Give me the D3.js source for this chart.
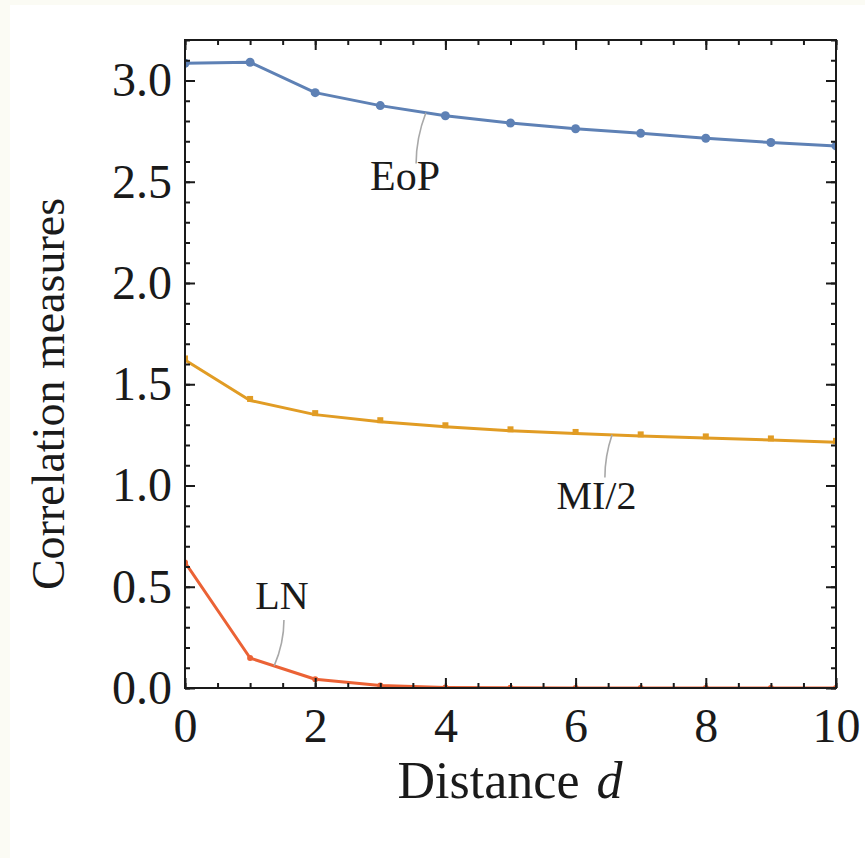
<!DOCTYPE html>
<html>
<head>
<meta charset="utf-8">
<script src="https://cdn.jsdelivr.net/npm/d3@7"></script>
<style>
  html, body { margin: 0; padding: 0; background: #ffffff; }
  svg { display: block; }
  text { font-family: 'Liberation Serif', 'Times New Roman', serif; fill: #1a1a1a; }
</style>
</head>
<body>
<div id="chart"></div>
<script>
// distances d = 0..10
var distances = [0, 1, 2, 3, 4, 5, 6, 7, 8, 9, 10];

// values
var eopValues = [3.085, 3.09, 2.94, 2.876, 2.826, 2.79, 2.762, 2.739, 2.715, 2.694, 2.677];
var miValues = [1.62, 1.42, 1.35, 1.315, 1.29, 1.27, 1.257, 1.245, 1.235, 1.225, 1.213];
var lnValues = [0.62, 0.148, 0.043, 0.012, 0.003, 0.001, 0, 0, 0, 0, 0];

var xTickLabels = [0, 2, 4, 6, 8, 10];
var yTickLabels = [0.0, 0.5, 1.0, 1.5, 2.0, 2.5, 3.0];

var seriesNames = ['EoP', 'MI/2', 'LN'];
var seriesColors = ['#5e81b5', '#e19c24', '#eb6235'];
var seriesMarkers = ['circle', 'square', 'dot'];

// callout labels: text position (data units) and leader line ends
var labelPos = [[3.38, 2.46], [6.32, 0.885], [1.49, 0.39]];
var leaderStart = [[3.55, 2.59], [6.45, 1.04], [1.52, 0.336]];
var leaderEndX = [3.70, 6.56, 1.37];

var width = 865, height = 858;
var dim = { left: 185, right: 836, top: 40, bottom: 688 };

var svg = d3.select('#chart').append('svg')
  .attr('width', width)
  .attr('height', height);

// outer page tint strip
svg.append('rect').attr('width', width).attr('height', height).attr('fill', '#fbfbf4');
svg.append('rect').attr('x', 10).attr('y', 5).attr('width', width - 10).attr('height', height - 5).attr('fill', '#ffffff');

var x = d3.scaleLinear().domain([0, 10]).range([dim.left, dim.right]);
var y = d3.scaleLinear().domain([0, 3.2]).range([dim.bottom, dim.top]);

svg.append('clipPath').attr('id', 'plotclip')
  .append('rect')
  .attr('x', dim.left).attr('y', dim.top)
  .attr('width', dim.right - dim.left).attr('height', dim.bottom - dim.top);

var series = [eopValues, miValues, lnValues].map(function (vals, i) {
  return {
    name: seriesNames[i],
    color: seriesColors[i],
    marker: seriesMarkers[i],
    points: distances.map(function (d, j) { return { d: d, v: vals[j] }; })
  };
});

var plot = svg.append('g').attr('clip-path', 'url(#plotclip)');

var line = d3.line()
  .x(function (p) { return x(p.d); })
  .y(function (p) { return y(p.v); });

series.forEach(function (s) {
  plot.append('path')
    .datum(s.points)
    .attr('fill', 'none')
    .attr('stroke', s.color)
    .attr('stroke-width', 3)
    .attr('stroke-linejoin', 'round')
    .attr('d', line);

  if (s.marker === 'square') {
    plot.selectAll(null).data(s.points).enter()
      .append('rect')
      .attr('x', function (p) { return x(p.d) - 3; })
      .attr('y', function (p) { return y(p.v) - 4.5; })
      .attr('width', 6).attr('height', 6)
      .attr('fill', s.color);
  } else {
    plot.selectAll(null).data(s.points).enter()
      .append('circle')
      .attr('cx', function (p) { return x(p.d); })
      .attr('cy', function (p) { return y(p.v); })
      .attr('r', s.marker === 'circle' ? 4.5 : 3)
      .attr('fill', s.color);
  }
});

// callouts
series.forEach(function (s, i) {
  var sx = x(leaderStart[i][0]), sy = y(leaderStart[i][1]);
  var ex = x(leaderEndX[i]);
  // interpolate the series at the leader end
  var k = Math.floor(leaderEndX[i]);
  var t = leaderEndX[i] - k;
  var ev = s.points[k].v * (1 - t) + s.points[k + 1].v * t;
  var ey = y(ev);
  var path = d3.path();
  path.moveTo(sx, sy);
  path.quadraticCurveTo(sx, (sy + ey) / 2, ex, ey);
  svg.append('path')
    .attr('d', path.toString())
    .attr('fill', 'none')
    .attr('stroke', '#a8a8a8')
    .attr('stroke-width', 1.6);

  svg.append('text')
    .attr('x', x(labelPos[i][0]))
    .attr('y', y(labelPos[i][1]))
    .attr('text-anchor', 'middle')
    .style('font-size', i === 0 ? '42px' : '40px')
    .text(s.name);
});

// axes: major + minor ticks on all four sides, pointing inward
var axes = svg.append('g').attr('class', 'axes');

function styleAxis(g) {
  g.select('.domain').remove();
  g.selectAll('.tick line').attr('stroke', '#1a1a1a').attr('stroke-width', 2);
  g.selectAll('.tick text')
    .style('font-family', "'Liberation Serif', 'Times New Roman', serif")
    .style('font-size', '48px')
    .attr('fill', '#1a1a1a');
}

var xMinor = d3.range(0, 10.01, 0.5);
var yMinor = d3.range(0, 3.21, 0.1);

// bottom
axes.append('g').attr('transform', 'translate(0,' + dim.bottom + ')')
  .call(d3.axisBottom(x).tickValues(xMinor).tickSizeInner(-5).tickSizeOuter(0).tickFormat(''))
  .call(styleAxis);
axes.append('g').attr('transform', 'translate(0,' + dim.bottom + ')')
  .call(d3.axisBottom(x).tickValues(xTickLabels).tickSizeInner(-10).tickSizeOuter(0)
    .tickPadding(20).tickFormat(d3.format('d')))
  .call(styleAxis);
// top
axes.append('g').attr('transform', 'translate(0,' + dim.top + ')')
  .call(d3.axisTop(x).tickValues(xMinor).tickSizeInner(-5).tickSizeOuter(0).tickFormat(''))
  .call(styleAxis);
axes.append('g').attr('transform', 'translate(0,' + dim.top + ')')
  .call(d3.axisTop(x).tickValues(xTickLabels).tickSizeInner(-10).tickSizeOuter(0).tickFormat(''))
  .call(styleAxis);
// left
axes.append('g').attr('transform', 'translate(' + dim.left + ',0)')
  .call(d3.axisLeft(y).tickValues(yMinor).tickSizeInner(-5).tickSizeOuter(0).tickFormat(''))
  .call(styleAxis);
axes.append('g').attr('transform', 'translate(' + dim.left + ',0)')
  .call(d3.axisLeft(y).tickValues(yTickLabels).tickSizeInner(-10).tickSizeOuter(0)
    .tickPadding(13).tickFormat(d3.format('.1f')))
  .call(styleAxis);
// right
axes.append('g').attr('transform', 'translate(' + dim.right + ',0)')
  .call(d3.axisRight(y).tickValues(yMinor).tickSizeInner(-5).tickSizeOuter(0).tickFormat(''))
  .call(styleAxis);
axes.append('g').attr('transform', 'translate(' + dim.right + ',0)')
  .call(d3.axisRight(y).tickValues(yTickLabels).tickSizeInner(-10).tickSizeOuter(0).tickFormat(''))
  .call(styleAxis);

// frame
axes.append('rect')
  .attr('x', dim.left).attr('y', dim.top)
  .attr('width', dim.right - dim.left).attr('height', dim.bottom - dim.top)
  .attr('fill', 'none')
  .attr('stroke', '#1a1a1a')
  .attr('stroke-width', 2);

// axis titles
var xTitle = svg.append('text')
  .attr('x', 510)
  .attr('y', 798)
  .attr('text-anchor', 'middle')
  .style('font-size', '52px');
xTitle.append('tspan').text('Distance ');
xTitle.append('tspan').attr('dx', 4).style('font-style', 'italic').text('d');

svg.append('text')
  .attr('transform', 'translate(64,394) rotate(-90)')
  .attr('text-anchor', 'middle')
  .style('font-size', '46px')
  .text('Correlation measures');
</script>
</body>
</html>
